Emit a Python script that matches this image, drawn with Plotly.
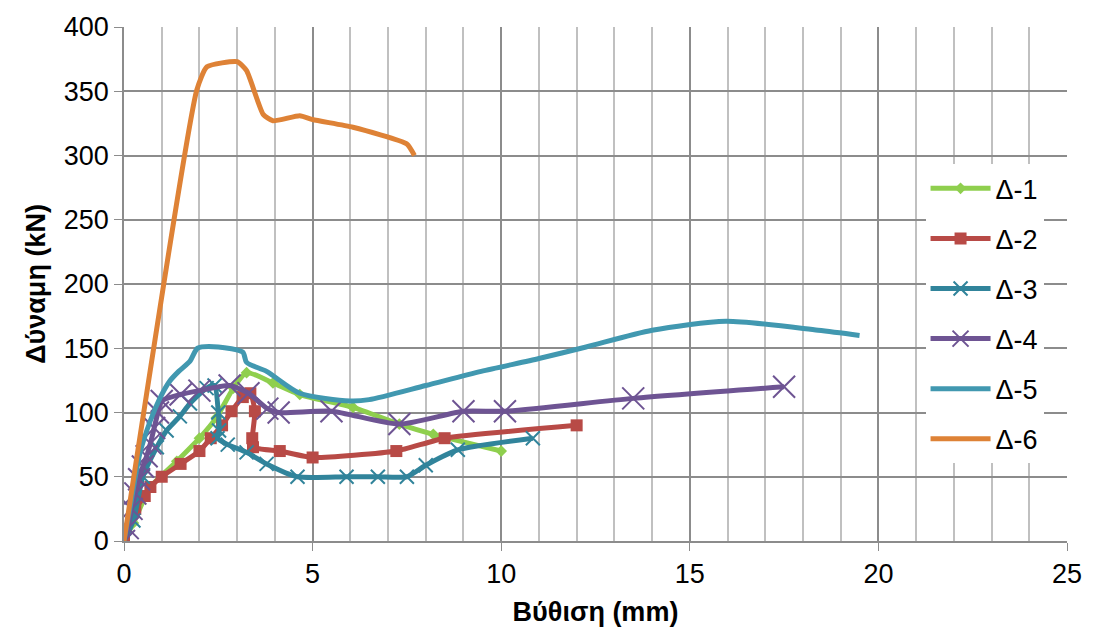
import plotly.graph_objects as go

# ---- data ----
d1_x = [0, 0.25, 0.7, 1.4, 2.0, 2.45, 2.9, 3.25, 3.95, 4.66, 6.07, 7.3, 8.2, 10.0]
d1_y = [0, 14, 42, 62, 80, 96, 119, 131, 123, 114, 104, 91, 83, 70]

d2_x = [0, 0.3, 0.55, 0.7, 1.0, 1.5, 2.0, 2.3, 2.6, 2.85, 3.15, 3.35, 3.47, 3.4, 3.42, 4.13, 5.0, 7.22, 8.5, 12.0]
d2_y = [0, 25, 35, 42, 50, 60, 70, 80, 90, 101, 112, 115, 101, 80, 73, 70, 65, 70, 80, 90]

d3_x = [0, 0.25, 0.5, 0.87, 1.13, 1.48, 1.75, 2.19, 2.4, 2.5, 2.52, 2.48, 2.75, 3.25, 3.78, 4.6, 5.9, 6.73, 7.5, 8.0, 8.85, 10.84]
d3_y = [0, 16, 50, 73, 86, 97, 107, 119, 121, 100, 86, 80, 75, 69, 60, 50, 50, 50, 50, 59, 71, 80]

d4_x = [0, 0.1, 0.2, 0.3, 0.4, 0.5, 0.6, 0.7, 0.8, 0.9, 1.0, 1.5, 2.0, 2.8, 3.3, 3.8, 4.1, 5.5, 7.3, 9.0, 10.1, 13.5, 17.5]
d4_y = [0, 10, 25, 37, 48, 58, 66, 76, 88, 100, 109, 114, 117, 121, 115, 103, 100, 101, 91, 101, 101, 111, 120]

d5_x = [0, 0.16, 0.42, 0.69, 0.95, 1.2, 1.45, 1.75, 1.95, 2.5, 3.15, 3.25, 3.78, 4.66, 5.99, 6.5, 8.0, 9.47, 11.0, 12.25, 14.0, 15.96, 18.4, 19.5]
d5_y = [0, 26, 68, 93, 111, 124, 132, 140, 150, 151, 147, 139, 132, 115, 109, 110, 121, 132, 142, 151, 164, 171, 164, 160]

d6_x = [0, 1.93, 2.2, 3.0, 3.25, 3.69, 3.95, 4.66, 5.0, 6.07, 7.5, 7.7]
d6_y = [0, 351, 369, 373, 366, 332, 327, 331, 328, 322, 309, 300]

names = ["Δ-1", "Δ-2", "Δ-3", "Δ-4", "Δ-5", "Δ-6"]
colors = ["#8FCF4E", "#B84A46", "#31849B", "#6E5493", "#4198B0", "#DE8236"]

fig = go.Figure()

fig.add_trace(go.Scatter(x=d1_x, y=d1_y, name=names[0], legendgroup="g1", mode="lines+markers",
                         line=dict(color=colors[0], width=5, shape="spline", smoothing=0.6),
                         marker=dict(symbol="diamond", size=9, color=colors[0])))
fig.add_trace(go.Scatter(x=d2_x, y=d2_y, name=names[1], legendgroup="g2", mode="lines+markers",
                         line=dict(color=colors[1], width=5, shape="spline", smoothing=0.5),
                         marker=dict(symbol="square", size=12, color=colors[1])))
fig.add_trace(go.Scatter(x=d3_x, y=d3_y, name=names[2], legendgroup="g3", mode="lines+markers",
                         line=dict(color=colors[2], width=5, shape="spline", smoothing=0.6),
                         marker=dict(symbol="x-thin", size=14, color=colors[2],
                                     line=dict(color=colors[2], width=2))))
fig.add_trace(go.Scatter(x=d4_x, y=d4_y, name=names[3], legendgroup="g4", mode="lines+markers",
                         line=dict(color=colors[3], width=5, shape="spline", smoothing=0.6),
                         marker=dict(symbol="x-thin", size=22, color=colors[3],
                                     line=dict(color=colors[3], width=2))))
fig.add_trace(go.Scatter(x=d5_x, y=d5_y, name=names[4], legendgroup="g5", mode="lines",
                         line=dict(color=colors[4], width=5, shape="spline", smoothing=0.7)))
fig.add_trace(go.Scatter(x=d6_x, y=d6_y, name=names[5], legendgroup="g6", mode="lines",
                         line=dict(color=colors[5], width=5, shape="spline", smoothing=0.5)))

font_main = "Liberation Sans, Arial, sans-serif"
FS = 27

fig.update_layout(
    width=1094, height=637,
    margin=dict(l=124, r=26, t=22, b=96),
    paper_bgcolor="white", plot_bgcolor="white",
    font=dict(family=font_main, size=FS, color="black"),
    showlegend=True,
    legend=dict(x=0.85, y=0.733, xanchor="left", yanchor="top",
                bgcolor="white", font=dict(size=FS),
                itemwidth=60, tracegroupgap=12,
                traceorder="grouped"),
    xaxis=dict(range=[0, 25], dtick=5, tick0=0,
               showgrid=True, gridcolor="#8C8C8C", gridwidth=1.5,
               minor=dict(dtick=1, showgrid=True, gridcolor="#C0C0C0", gridwidth=1.5),
               showline=True, linecolor="#8C8C8C", linewidth=1.5,
               ticks="outside", ticklen=8, tickcolor="#8C8C8C",
               zeroline=False,
               title=dict(text="<b>Βύθιση (mm)</b>", font=dict(size=FS), standoff=14),
               tickfont=dict(size=FS)),
    yaxis=dict(range=[0, 400], dtick=50, tick0=0,
               showgrid=True, gridcolor="#8C8C8C", gridwidth=1.5,
               showline=True, linecolor="#8C8C8C", linewidth=1.5,
               ticks="outside", ticklen=8, tickcolor="#8C8C8C",
               zeroline=False,
               title=dict(text="<b>Δύναμη (kN)</b>", font=dict(size=FS), standoff=10),
               tickfont=dict(size=FS)),
)

fig.write_html("out.html")
